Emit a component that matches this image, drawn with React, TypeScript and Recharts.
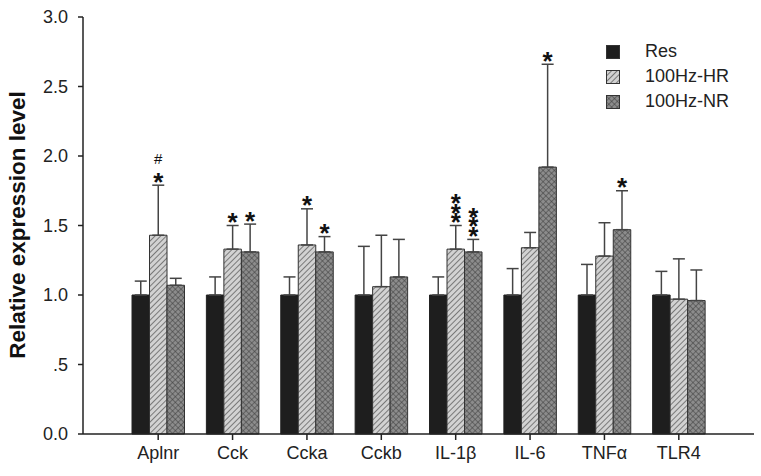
import { BarChart, Bar, XAxis, YAxis, ErrorBar, LabelList } from "recharts";

const categories = ["Aplnr", "Cck", "Ccka", "Cckb", "IL-1β", "IL-6", "TNFα", "TLR4"];
const seriesNames = ["Res", "100Hz-HR", "100Hz-NR"];

const res = [1.0, 1.0, 1.0, 1.0, 1.0, 1.0, 1.0, 1.0];
const resSd = [0.1, 0.13, 0.13, 0.35, 0.13, 0.19, 0.22, 0.17];

const hr = [1.43, 1.33, 1.36, 1.06, 1.33, 1.34, 1.28, 0.97];
const hrSd = [0.36, 0.17, 0.26, 0.37, 0.17, 0.11, 0.24, 0.29];

const nr = [1.07, 1.31, 1.31, 1.13, 1.31, 1.92, 1.47, 0.96];
const nrSd = [0.05, 0.2, 0.11, 0.27, 0.09, 0.74, 0.28, 0.22];

// significance marks drawn above the error bars
const hrMarks = ["#*", "*", "*", "", "***", "", "", ""];
const nrMarks = ["", "*", "*", "", "***", "*", "*", ""];

const yTicks = [0, 0.5, 1, 1.5, 2, 2.5, 3];

const data = categories.map((name, i) => ({
  name,
  res: res[i],
  resErr: [0, resSd[i]],
  hr: hr[i],
  hrErr: [0, hrSd[i]],
  hrMark: hrMarks[i],
  nr: nr[i],
  nrErr: [0, nrSd[i]],
  nrMark: nrMarks[i],
}));

const FONT = "'Liberation Sans', Arial, Helvetica, sans-serif";

function formatTick(v: number) {
  if (v === 0.5) return ".5";
  return v.toFixed(1);
}

function makeMarkLabel(values: number[], sds: number[]) {
  return (props: any) => {
    const { x, y, width, height, value, index } = props;
    if (!value) return null;
    const v = values[index];
    const ppu = height / v;
    const errTop = y + height - (v + sds[index]) * ppu;
    const cx = x + width / 2;
    const stars = value.replace("#", "").length;
    const hasHash = value.includes("#");
    // bottom star baseline, then stack upwards
    const base = errTop - 9 + 14.5;
    return (
      <g>
        <text x={cx} y={base - (stars - 1) * 9.5} textAnchor="middle" fontFamily={FONT} fontWeight="bold" fontSize={26} fill="#111">
          {Array.from({ length: stars }).map((_, k) => (
            <tspan key={k} x={cx} dy={k === 0 ? 0 : 9.5}>
              *
            </tspan>
          ))}
        </text>
        {hasHash && (
          <text x={cx} y={errTop - 9 - stars * 9.5 - 3} textAnchor="middle" fontFamily={FONT} fontSize={15} fill="#111">
            #
          </text>
        )}
      </g>
    );
  };
}

const legendFills = ["#1e1e1e", "url(#hatchHR)", "url(#crossNR)"];

function LegendBox() {
  return (
    <div style={{ position: "absolute", left: 606, top: 39, fontFamily: FONT }}>
      {seriesNames.map((n, i) => (
        <div key={n} style={{ display: "flex", alignItems: "center", height: 25 }}>
          <svg width={15} height={14} style={{ marginRight: 24 }}>
            <rect x={0.5} y={0.5} width={13} height={13} fill={legendFills[i]} stroke="#333" strokeWidth={1} />
          </svg>
          <span style={{ fontSize: 18, color: "#222" }}>{n}</span>
        </div>
      ))}
    </div>
  );
}

export default function App() {
  return (
    <div style={{ position: "absolute", left: 0, top: 0, width: 761, height: 476, background: "#fff" }}>
      <BarChart
        width={761}
        height={476}
        data={data}
        margin={{ top: 17, right: 7, bottom: 12, left: 0 }}
        barGap={0}
        barSize={17.5}
      >
        <defs>
          <pattern id="hatchHR" patternUnits="userSpaceOnUse" width={4} height={4} patternTransform="rotate(45)">
            <rect width={4} height={4} fill="#d2d2d2" />
            <line x1={0} y1={0} x2={0} y2={4} stroke="#3c3c3c" strokeWidth={1.2} />
          </pattern>
          <pattern id="crossNR" patternUnits="userSpaceOnUse" width={4} height={4} patternTransform="rotate(45)">
            <rect width={4} height={4} fill="#8c8c8c" />
            <line x1={0} y1={0} x2={0} y2={4} stroke="#3a3a3a" strokeWidth={1} />
            <line x1={0} y1={0} x2={4} y2={0} stroke="#3a3a3a" strokeWidth={1} />
          </pattern>
        </defs>
        <XAxis
          dataKey="name"
          height={30}
          padding={{ left: 38, right: 38 }}
          axisLine={{ stroke: "#222", strokeWidth: 1.5 }}
          tickLine={{ stroke: "#222", strokeWidth: 1.5 }}
          tickSize={6}
          tick={{ fill: "#222", fontSize: 18, fontFamily: FONT }}
          tickMargin={6}
          interval={0}
        />
        <YAxis
          width={83}
          domain={[0, 3]}
          ticks={yTicks}
          tickFormatter={formatTick}
          axisLine={{ stroke: "#222", strokeWidth: 1.5 }}
          tickLine={{ stroke: "#222", strokeWidth: 1.5 }}
          tickSize={5}
          tickMargin={10}
          tick={{ fill: "#222", fontSize: 18, fontFamily: FONT }}
          label={{
            content: () => (
              <text
                x={17}
                y={225}
                transform="rotate(-90 17 225)"
                textAnchor="middle"
                dominantBaseline="central"
                fontFamily={FONT}
                fontWeight="bold"
                fontSize={22.5}
                fill="#111"
              >
                Relative expression level
              </text>
            ),
          }}
        />
        <Bar dataKey="res" name="Res" fill="#1e1e1e" stroke="#222" strokeWidth={1} isAnimationActive={false}>
          <ErrorBar dataKey="resErr" width={6} stroke="#444" strokeWidth={1.5} direction="y" />
        </Bar>
        <Bar dataKey="hr" name="100Hz-HR" fill="url(#hatchHR)" stroke="#333" strokeWidth={1} isAnimationActive={false}>
          <ErrorBar dataKey="hrErr" width={6} stroke="#444" strokeWidth={1.5} direction="y" />
          <LabelList dataKey="hrMark" content={makeMarkLabel(hr, hrSd)} />
        </Bar>
        <Bar dataKey="nr" name="100Hz-NR" fill="url(#crossNR)" stroke="#333" strokeWidth={1} isAnimationActive={false}>
          <ErrorBar dataKey="nrErr" width={6} stroke="#444" strokeWidth={1.5} direction="y" />
          <LabelList dataKey="nrMark" content={makeMarkLabel(nr, nrSd)} />
        </Bar>
      </BarChart>
      <LegendBox />
    </div>
  );
}
